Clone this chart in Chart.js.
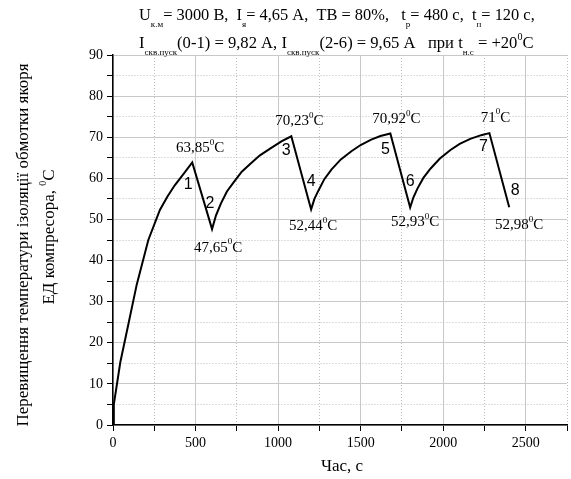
<!DOCTYPE html>
<html>
<head>
<meta charset="utf-8">
<script src="https://cdn.jsdelivr.net/npm/chart.js@4/dist/chart.umd.min.js"></script>
<style>
  body { margin: 0; background: #fff; }
  #wrap { position: relative; width: 571px; height: 479px; overflow: hidden;
          font-family: "Liberation Serif", "Times New Roman", serif; color: #000; }
  #wrap canvas { position: absolute; left: 0; top: 0; }
  .txt { position: absolute; white-space: pre; line-height: 1; }
  .sb { font-size: 9px; position: relative; top: 7px; }
  .sp { font-size: 10px; position: relative; top: -8px; }
  .rot { position: absolute; white-space: pre; line-height: 1; font-size: 17px;
         transform: translate(-50%, -50%) rotate(-90deg); }
</style>
</head>
<body>
<div id="wrap">
  <canvas id="chart" width="571" height="479"></canvas>
  <div class="txt" style="left:139px;top:7px;font-size:16.4px">U<span class="sb">к.м</span>= 3000 В,  I<span class="sb">я</span>= 4,65 А,  ТВ = 80%,   t<span class="sb">р</span>= 480 с,  t<span class="sb">п</span>= 120 с,</div>
  <div class="txt" style="left:139px;top:35px;font-size:16.6px">I<span class="sb">скв.пуск</span>(0-1) = 9,82 А, I<span class="sb">скв.пуск</span>(2-6) = 9,65 А   при t<span class="sb">н.с</span> = +20<span class="sp">0</span>С</div>
  <div class="rot" style="left:22px;top:245px">Перевищення температури ізоляції обмотки якоря</div>
  <div class="rot" style="left:48px;top:237px">ЕД компресора, <span class="sp">0</span>С</div>
  <div class="txt" style="left:342px;top:457px;font-size:17px;transform:translateX(-50%)">Час, с</div>
</div>
<script>
// ---- data ----
const timeS = [0, 5, 44, 94, 144, 214, 284, 330, 374, 430, 480,
               600, 624, 654, 690, 734, 780, 834, 890, 954, 1020, 1080,
               1200, 1220, 1244, 1280, 1324, 1380, 1444, 1500, 1564, 1620, 1680,
               1800, 1820, 1844, 1880, 1924, 1980, 2044, 2100, 2164, 2230, 2280,
               2400];
const tempC = [0, 5, 15.2, 24.7, 34.2, 45, 52.3, 55.6, 58.3, 61.2, 63.85,
               47.65, 51.0, 53.9, 56.8, 59.2, 61.6, 63.6, 65.6, 67.3, 69.0, 70.23,
               52.44, 55.0, 57.0, 59.8, 62.2, 64.6, 66.6, 68.1, 69.4, 70.3, 70.92,
               52.93, 55.4, 57.5, 60.1, 62.4, 64.8, 66.9, 68.4, 69.6, 70.5, 71.0,
               52.98];

// indices of peaks / troughs and their labels
const extremaIdx  = [10, 11, 21, 22, 32, 33, 43, 44];
const extremaText = ['63,85', '47,65', '70,23', '52,44', '70,92', '52,93', '71', '52,98'];
const pointNums   = ['1', '2', '3', '4', '5', '6', '7', '8'];

const xTicks = { min: 0, max: 2750, step: 250, labelEvery: 500 };
const yTicks = { min: 0, max: 90, step: 5, labelEvery: 10 };

// pixel offsets of the labels from their anchor point
const valueOffset = [[8, -14], [6, 19], [8, -15], [2, 17], [6, -14], [5, 15], [6, -15], [10, 18]];
const numOffset   = [[-4, 22], [-2, -26], [-5, 14], [0, -28], [-5, 16], [0, -26], [-6, 13], [6, -17]];

const SERIF = '"Liberation Serif", "Times New Roman", serif';
const SANS  = '"Liberation Sans", Arial, sans-serif';

// draw "63,85⁰C" with a raised small zero
function drawDegLabel(ctx, txt, cx, cy) {
  ctx.font = '15px ' + SERIF;
  const w1 = ctx.measureText(txt).width;
  ctx.font = '9px ' + SERIF;
  const w2 = ctx.measureText('0').width;
  ctx.font = '15px ' + SERIF;
  const w3 = ctx.measureText('C').width;
  let x = cx - (w1 + w2 + w3) / 2;
  ctx.textAlign = 'left';
  ctx.textBaseline = 'middle';
  ctx.fillText(txt, x, cy);
  x += w1;
  ctx.font = '9px ' + SERIF;
  ctx.fillText('0', x, cy - 6);
  x += w2;
  ctx.font = '15px ' + SERIF;
  ctx.fillText('C', x, cy);
}

const labelPlugin = {
  id: 'labels',
  afterDatasetsDraw(chart) {
    const { ctx, scales: { x, y } } = chart;
    ctx.save();
    ctx.fillStyle = '#000';
    extremaIdx.forEach((k, i) => {
      const px = x.getPixelForValue(timeS[k]);
      const py = y.getPixelForValue(tempC[k]);
      drawDegLabel(ctx, extremaText[i], px + valueOffset[i][0], py + valueOffset[i][1]);
      ctx.font = '16px ' + SANS;
      ctx.textAlign = 'center';
      ctx.textBaseline = 'middle';
      ctx.fillText(pointNums[i], px + numOffset[i][0], py + numOffset[i][1]);
    });
    ctx.restore();
  }
};

function axisOpts(t, fitFn) {
  const isMajor = c => c.tick && c.tick.value % t.labelEvery === 0;
  return {
    type: 'linear',
    min: t.min,
    max: t.max,
    afterFit: fitFn,
    afterBuildTicks: s => {
      s.ticks = [];
      for (let v = t.min; v <= t.max; v += t.step) s.ticks.push({ value: v });
    },
    ticks: {
      autoSkip: false,
      maxRotation: 0,
      padding: 4,
      color: '#000',
      font: { family: SERIF, size: 14 },
      callback: v => (v % t.labelEvery === 0 ? String(v) : ''),
    },
    grid: {
      color: c => (isMajor(c) ? '#c8c8c8' : '#bdbdbd'),
      lineWidth: 1,
      tickColor: '#000',
      tickLength: 6,
    },
    border: {
      display: true,
      color: '#000',
      width: 1.5,
      dash: c => (c.tick && !isMajor(c) ? [1, 2] : []),
    },
  };
}

new Chart(document.getElementById('chart'), {
  type: 'scatter',
  data: {
    datasets: [{
      data: timeS.map((t, i) => ({ x: t, y: tempC[i] })),
      showLine: true,
      borderColor: '#000',
      borderWidth: 2,
      pointRadius: 0,
      tension: 0,
    }],
  },
  options: {
    responsive: false,
    animation: false,
    devicePixelRatio: 1,
    layout: { padding: { top: 55, right: 0, left: 0, bottom: 0 } },
    plugins: { legend: { display: false }, tooltip: { enabled: false } },
    scales: {
      x: axisOpts(xTicks, s => { s.height = 54; }),
      y: axisOpts(yTicks, s => { s.width = 113; }),
    },
  },
  plugins: [labelPlugin],
});
</script>
</body>
</html>
